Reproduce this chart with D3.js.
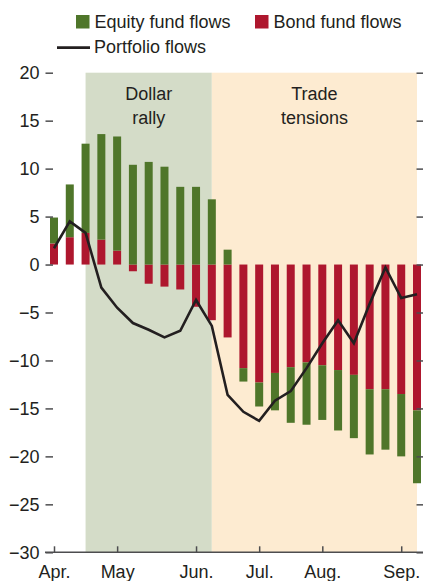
<!DOCTYPE html>
<html>
<head>
<meta charset="utf-8">
<script src="https://cdn.jsdelivr.net/npm/d3@7"></script>
<style>
  body { margin: 0; background: #fff; }
  svg { display: block; }
  text {
    font-family: "Liberation Sans", Arial, sans-serif;
    font-size: 18px;
    fill: #231f20;
  }
</style>
</head>
<body>
<svg id="chart" width="423" height="581"></svg>
<script>
// weekly data, billions of US dollars
const WEEKS = [
  "2018-04-04", "2018-04-11", "2018-04-18", "2018-04-25",
  "2018-05-02", "2018-05-09", "2018-05-16", "2018-05-23", "2018-05-30",
  "2018-06-06", "2018-06-13", "2018-06-20", "2018-06-27",
  "2018-07-04", "2018-07-11", "2018-07-18", "2018-07-25",
  "2018-08-01", "2018-08-08", "2018-08-15", "2018-08-22", "2018-08-29",
  "2018-09-05", "2018-09-12",
];
const EQUITY = [2.7, 5.5, 9.3, 11.0, 11.9, 10.4, 10.7, 10.2, 8.1, 8.1, 6.8, 1.55,
  -1.4, -2.5, -3.9, -5.8, -6.5, -5.7, -6.3, -6.6, -6.8, -6.3, -6.5, -7.6];
const BOND = [2.2, 2.85, 3.3, 2.6, 1.45, -0.7, -2.0, -2.3, -2.6, -4.4, -5.8, -7.6,
  -10.8, -12.3, -11.3, -10.7, -10.2, -10.5, -11.0, -11.5, -13.0, -13.0, -13.5, -15.2];
const PORTFOLIO = [1.7, 4.5, 3.3, -2.4, -4.5, -6.1, -6.8, -7.6, -6.9, -3.7, -6.4, -13.6,
  -15.35, -16.3, -14.2, -13.2, -10.8, -8.2, -5.8, -8.2, -4.1, -0.3, -3.5, -3.1];

const MONTH_WEEKS = ["2018-04-04", "2018-05-02", "2018-06-06", "2018-07-04", "2018-08-01", "2018-09-05"];
const MONTH_LABELS = ["Apr.", "May", "Jun.", "Jul.", "Aug.", "Sep."];
const Y_TICKS = [-30, -25, -20, -15, -10, -5, 0, 5, 10, 15, 20];

const PERIODS = [
  { label: ["Dollar", "rally"], start: "2018-04-18", end: "2018-06-13", color: "#d4dcc8" },
  { label: ["Trade", "tensions"], start: "2018-06-13", end: "2018-09-12", color: "#fdebd1" },
];

const SERIES = ["Equity fund flows", "Bond fund flows"];
const COLORS = { "Equity fund flows": "#4f762a", "Bond fund flows": "#ae172e" };

const svg = d3.select("#chart");
const margin = { top: 72.7, bottom: 28.7, left: 54, right: 6 };
const height = 581;
const width = 423;

const x = d3.scalePoint().domain(WEEKS).range([54, 417]);
const y = d3.scaleLinear().domain([-30, 20]).range([height - margin.bottom, margin.top]);
const barW = 8;

// shaded periods
const shade = svg.append("g");
PERIODS.forEach((p) => {
  shade.append("rect")
    .attr("x", x(p.start))
    .attr("y", y(20))
    .attr("width", x(p.end) - x(p.start))
    .attr("height", y(-30) - y(20))
    .attr("fill", p.color);
  const cx = (x(p.start) + x(p.end)) / 2;
  p.label.forEach((t, i) => {
    shade.append("text")
      .attr("x", cx)
      .attr("y", 100 + i * 23.5)
      .attr("text-anchor", "middle")
      .text(t);
  });
});

// stacked bars: positives stack up, negatives stack down
const rows = WEEKS.map((w, i) => ({ week: w, eq: EQUITY[i], bd: BOND[i] }));
const bars = svg.append("g");
rows.forEach((d) => {
  let pos = 0, neg = 0;
  // bond sits next to zero, equity beyond
  [["Bond fund flows", d.bd], ["Equity fund flows", d.eq]].forEach(([name, v]) => {
    let y0, y1;
    if (v >= 0) { y0 = pos; y1 = pos + v; pos = y1; }
    else { y0 = neg; y1 = neg + v; neg = y1; }
    bars.append("rect")
      .attr("x", x(d.week) - barW / 2)
      .attr("width", barW)
      .attr("y", y(Math.max(y0, y1)))
      .attr("height", Math.abs(y(y0) - y(y1)))
      .attr("fill", COLORS[name]);
  });
});

// portfolio line
const line = d3.line()
  .x((d, i) => x(WEEKS[i]))
  .y((d) => y(d));
svg.append("path")
  .datum(PORTFOLIO)
  .attr("d", line)
  .attr("fill", "none")
  .attr("stroke", "#231f20")
  .attr("stroke-width", 2.6)
  .attr("stroke-linejoin", "miter");

// axes
const fmt = (d) => (d < 0 ? "\u2212" + Math.abs(d) : d);
const yLeft = svg.append("g")
  .attr("transform", "translate(53,0)")
  .call(d3.axisLeft(y).tickValues(Y_TICKS).tickSize(7.5).tickPadding(6).tickFormat(fmt));
yLeft.select(".domain").remove();

const yRight = svg.append("g")
  .attr("transform", "translate(416.5,0)")
  .call(d3.axisRight(y).tickValues(Y_TICKS).tickSize(6.5).tickFormat(""));
yRight.select(".domain").remove();

[yLeft, yRight].forEach((g) => {
  g.selectAll("line").attr("stroke", "#4d4d4f").attr("stroke-width", 1.5);
  g.selectAll("text")
    .style("font-family", '"Liberation Sans", Arial, sans-serif')
    .style("font-size", "18px")
    .attr("fill", "#231f20");
});

const xAxis = svg.append("g")
  .attr("transform", `translate(0,${y(-30)})`)
  .call(d3.axisBottom(x).tickValues(MONTH_WEEKS)
    .tickSize(-6)
    .tickFormat((d) => MONTH_LABELS[MONTH_WEEKS.indexOf(d)]));
xAxis.select(".domain").remove();
xAxis.selectAll("line").attr("stroke", "#4d4d4f").attr("stroke-width", 1.5);
xAxis.selectAll("text")
  .attr("y", 26)
  .attr("dy", 0)
  .style("font-family", '"Liberation Sans", Arial, sans-serif')
  .style("font-size", "18px")
  .attr("fill", "#231f20");
xAxis.append("line")
  .attr("x1", 45).attr("x2", 423)
  .attr("y1", 0).attr("y2", 0)
  .attr("stroke", "#4d4d4f")
  .attr("stroke-width", 1.5);

// legend
const legend = svg.append("g");
const legendItems = [
  { name: SERIES[0], x: 76 },
  { name: SERIES[1], x: 255 },
];
legendItems.forEach((it) => {
  legend.append("rect")
    .attr("x", it.x).attr("y", 15)
    .attr("width", 13.5).attr("height", 13.5)
    .attr("fill", COLORS[it.name]);
  legend.append("text")
    .attr("x", it.x + 18.5).attr("y", 28)
    .text(it.name);
});
legend.append("line")
  .attr("x1", 57).attr("x2", 90)
  .attr("y1", 47.7).attr("y2", 47.7)
  .attr("stroke", "#231f20").attr("stroke-width", 2.8);
legend.append("text")
  .attr("x", 94).attr("y", 53)
  .text("Portfolio flows");
</script>
</body>
</html>
